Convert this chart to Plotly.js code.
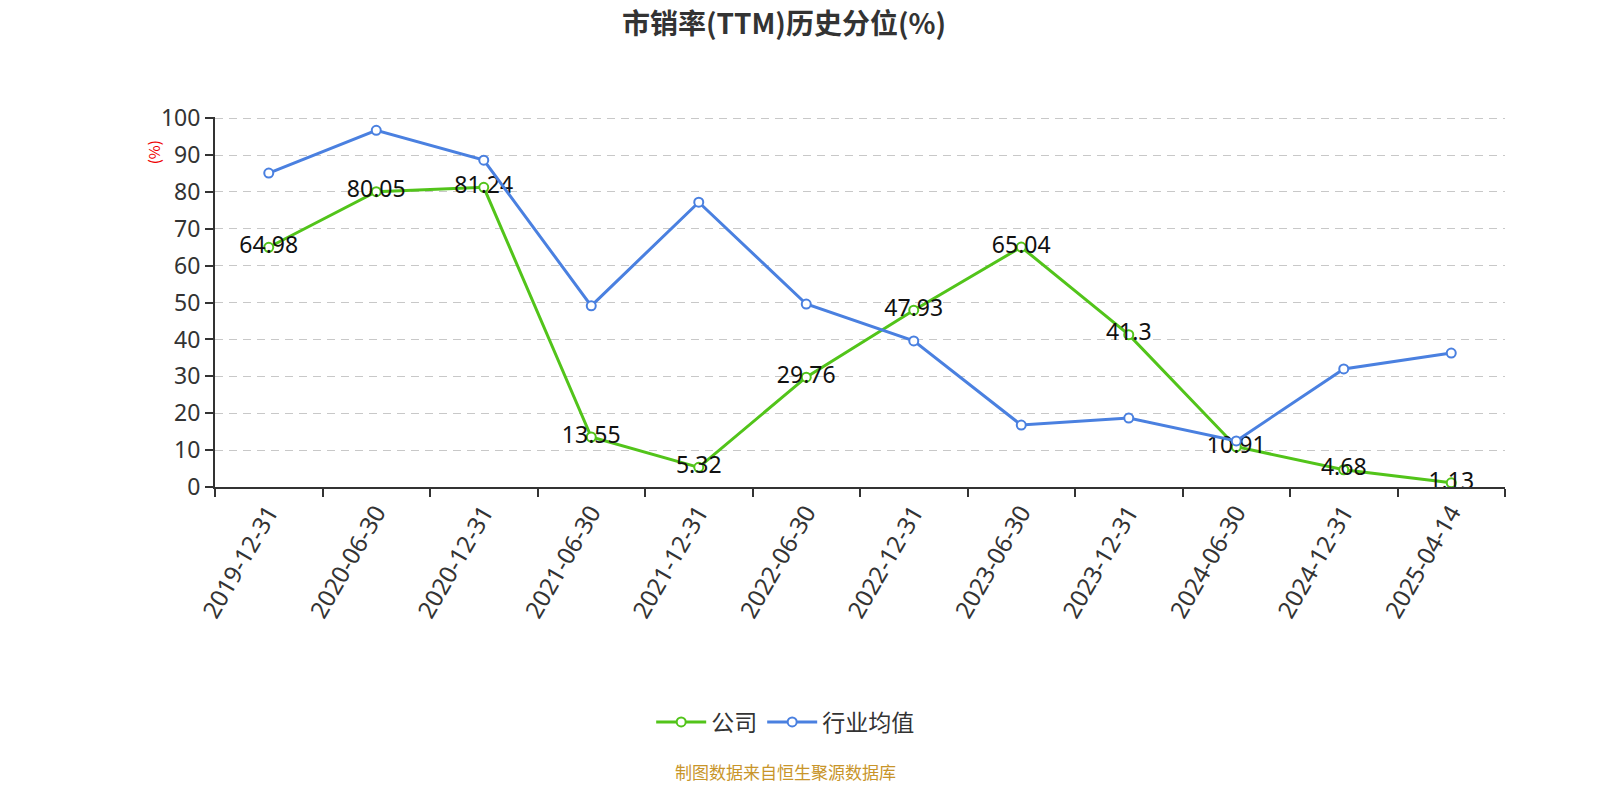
<!DOCTYPE html>
<html>
<head>
<meta charset="utf-8">
<script src="https://cdn.plot.ly/plotly-3.0.1.min.js"></script>
<style>html,body{margin:0;padding:0;background:#fff;}#chart{width:1600px;height:800px;}</style>
</head>
<body>
<div id="chart"></div>
<script>
const categories = ["2019-12-31","2020-06-30","2020-12-31","2021-06-30","2021-12-31","2022-06-30","2022-12-31","2023-06-30","2023-12-31","2024-06-30","2024-12-31","2025-04-14"];
const companyValues = [64.98, 80.05, 81.24, 13.55, 5.32, 29.76, 47.93, 65.04, 41.3, 10.91, 4.68, 1.13];
const industryValues = [85.1, 96.7, 88.6, 49.1, 77.2, 49.6, 39.6, 16.8, 18.7, 12.5, 32.0, 36.3];
const seriesNames = ["公司", "行业均值"];
const yTicks = [0,10,20,30,40,50,60,70,80,90,100];

const font = "'Noto Sans', 'Noto Sans CJK SC', sans-serif";
const cjk = "'Noto Sans CJK SC', 'Noto Sans', sans-serif";
const green = "#52c41a";
const blue = "#4a80e0";

const traces = [
  {
    x: categories, y: companyValues, name: seriesNames[0], type: "scatter",
    mode: "lines+markers+text",
    text: companyValues.map(v => String(v)),
    textposition: "middle center",
    textfont: {family: font, size: 23, color: "#111"},
    line: {color: green, width: 3},
    marker: {symbol: "circle", size: 9, color: "#fff", line: {color: green, width: 2}},
    cliponaxis: false
  },
  {
    x: categories, y: industryValues, name: seriesNames[1], type: "scatter",
    mode: "lines+markers",
    line: {color: blue, width: 3},
    marker: {symbol: "circle", size: 9, color: "#fff", line: {color: blue, width: 2}},
    cliponaxis: false
  }
];

const layout = {
  width: 1600, height: 800,
  paper_bgcolor: "#fff", plot_bgcolor: "#fff",
  margin: {l: 215, r: 95, t: 117, b: 313},
  title: {text: "<b>市销率(TTM)历史分位(%)</b>", x: 0.49, xanchor: "center", y: 0.97, yanchor: "middle",
          font: {family: cjk, size: 28, color: "#333"}},
  showlegend: true,
  legend: {orientation: "h", x: 0.442, xanchor: "center", y: -0.635, yanchor: "middle",
           font: {family: cjk, size: 23, color: "#333"}, itemwidth: 50, traceorder: "normal"},
  xaxis: {
    type: "category", range: [-0.5, 11.5], tickson: "boundaries",
    ticks: "outside", ticklen: 8, tickwidth: 1.5, tickcolor: "#333",
    showline: true, linecolor: "#333", linewidth: 2,
    showgrid: false, zeroline: false,
    tickangle: -60, tickfont: {family: font, size: 24, color: "#333"}
  },
  yaxis: {
    range: [0, 100.3], tickvals: yTicks, ticks: "outside", ticklen: 8, tickwidth: 1.5, tickcolor: "#333",
    showline: true, linecolor: "#333", linewidth: 2,
    showgrid: true, gridcolor: "#c8c8c8", griddash: "8px,6px", gridwidth: 1.3,
    zeroline: false, tickfont: {family: font, size: 23, color: "#333"}
  },
  annotations: [
    {text: "(%)", xref: "paper", yref: "paper", x: -0.048, y: 0.905, textangle: -90,
     showarrow: false, font: {family: cjk, size: 15, color: "#e00"}, xanchor: "center", yanchor: "middle"},
    {text: "制图数据来自恒生聚源数据库", xref: "paper", yref: "paper", x: 0.442, y: -0.77,
     showarrow: false, font: {family: cjk, size: 17, color: "#c8952a"}, xanchor: "center", yanchor: "middle"}
  ]
};

Plotly.newPlot("chart", traces, layout, {displayModeBar: false, responsive: false});
</script>
</body>
</html>
